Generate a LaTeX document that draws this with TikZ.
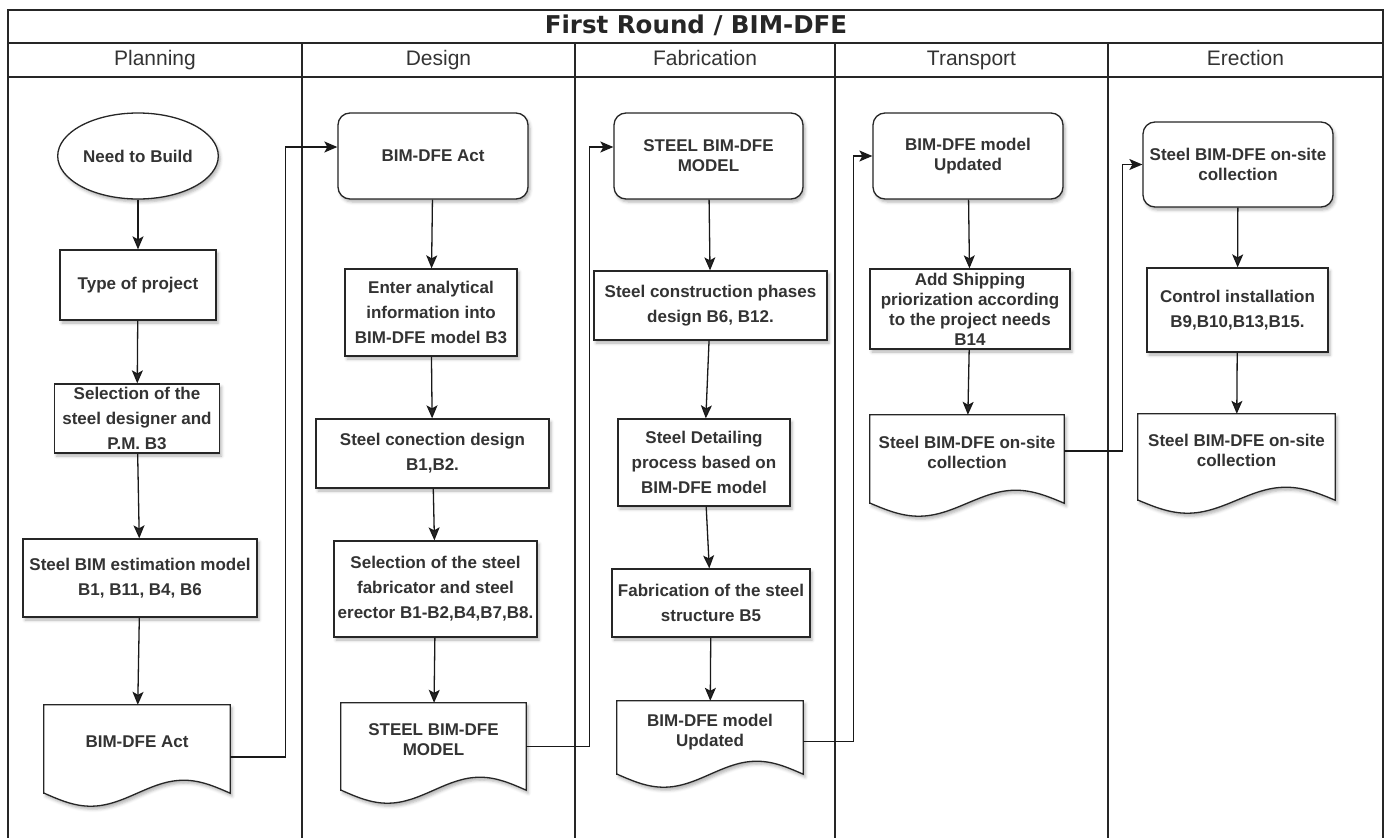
\documentclass[tikz,border=0pt]{standalone}
\usepackage{fontspec}
\setmainfont{Liberation Sans}
\newfontfamily\titlefont{DejaVu Sans}
\usetikzlibrary{shapes.geometric,arrows.meta,shadows.blur,backgrounds}

\newcommand{\docwave}[2]{%
  \draw[doc line] (#1.south west) |- (#1.north east) -- (#1.south east)
    sin ++(-#2/4,-13) cos ++(-#2/4,13) sin ++(-#2/4,13) cos ++(-#2/4,-13) -- cycle;}

\begin{document}
\begin{tikzpicture}[x=1pt,y=-1pt,
    lane line/.style={line width=1.3pt,draw=black!85},
    box shadow/.style={blur shadow={shadow xshift=2pt,shadow yshift=-3pt,shadow blur radius=3pt,shadow opacity=30}},
    base node/.style={draw=black!85,line width=1.3pt,fill=white,align=center,text=black!80,
                      font=\bfseries\fontsize{17}{25}\selectfont,inner sep=2pt,box shadow},
    proc node/.style={base node,rectangle},
    act node/.style={base node,rectangle,rounded corners=12pt,font=\bfseries\fontsize{17}{20}\selectfont},
    start node/.style={base node,ellipse},
    doc node/.style={rectangle,align=center,text=black!80,font=\bfseries\fontsize{17}{20}\selectfont,
                     inner sep=2pt,text depth=14pt},
    doc line/.style={draw=black!85,line width=1.3pt,fill=white,box shadow},
    flow/.style={-{Stealth[length=13pt,width=11pt,inset=3pt]},line width=1.3pt,draw=black!90},
    lane head/.style={font=\fontsize{21}{25}\selectfont,text=black!80,text height=15pt,text depth=5pt}]

  \useasboundingbox (0,0) rectangle (1385,838);

  % pool and lanes
  \draw[lane line] (8,838) -- (8,10) -- (1383,10) -- (1383,838);
  \draw[lane line] (8,43) -- (1383,43) (8,77) -- (1383,77);
  \foreach \x in {302,575,835,1108}
    \draw[lane line] (\x,43) -- (\x,838);

  \node[font=\titlefont\bfseries\fontsize{24.5}{28}\selectfont,text=black!85,text height=18pt,text depth=5pt] (title) at (696,26.5) {First Round / BIM-DFE};
  \node[lane head] (h1) at (155,60) {Planning};
  \node[lane head] (h2) at (438.5,60) {Design};
  \node[lane head] (h3) at (705,60) {Fabrication};
  \node[lane head] (h4) at (971.5,60) {Transport};
  \node[lane head] (h5) at (1245.5,60) {Erection};

  % planning
  \node[start node,minimum width=156pt,minimum height=86pt] (a1) at (138,156) {Need to Build};
  \node[proc node,minimum width=156pt,minimum height=70pt] (a2) at (138,285) {Type of project};
  \node[proc node,minimum width=165pt,minimum height=69pt] (a3) at (137,418.5) {Selection of the\\steel designer and\\P.M. B3};
  \node[proc node,minimum width=234pt,minimum height=78pt] (a4) at (140,578) {Steel BIM estimation model\\B1, B11, B4, B6};
  \node[doc node,minimum width=186pt,minimum height=88pt] (a5) at (137,749) {BIM-DFE Act};

  % design
  \node[act node,minimum width=190pt,minimum height=86pt] (b1) at (433,156) {BIM-DFE Act};
  \node[proc node,minimum width=172pt,minimum height=87pt] (b2) at (431,312.5) {Enter analytical\\information into\\BIM-DFE model B3};
  \node[proc node,minimum width=233pt,minimum height=69pt] (b3) at (432.5,453.5) {Steel conection design\\B1,B2.};
  \node[proc node,minimum width=203pt,minimum height=96pt] (b4) at (435.5,589) {Selection of the steel\\fabricator and steel\\erector B1-B2,B4,B7,B8.};
  \node[doc node,minimum width=185pt,minimum height=87pt] (b5) at (433.5,746.5) {STEEL BIM-DFE\\MODEL};

  % fabrication
  \node[act node,minimum width=189pt,minimum height=86pt] (c1) at (708.5,156) {STEEL BIM-DFE\\MODEL};
  \node[proc node,minimum width=233pt,minimum height=69pt] (c2) at (710.5,305.5) {Steel construction phases\\design B6, B12.};
  \node[proc node,minimum width=172pt,minimum height=87pt] (c3) at (704,462.5) {Steel Detailing\\process based on\\BIM-DFE model};
  \node[proc node,minimum width=198pt,minimum height=68pt] (c4) at (711,603) {Fabrication of the steel\\structure B5};
  \node[doc node,minimum width=186pt,minimum height=73pt] (c5) at (710,737.5) {BIM-DFE model\\Updated};

  % transport
  \node[act node,minimum width=190pt,minimum height=86pt] (d1) at (968,156) {BIM-DFE model\\Updated};
  \node[proc node,minimum width=200pt,minimum height=80pt,font=\bfseries\fontsize{17}{20}\selectfont] (d2) at (970,309) {Add Shipping\\priorization according\\to the project needs\\B14};
  \node[doc node,minimum width=194pt,minimum height=88pt] (d3) at (967,459) {Steel BIM-DFE on-site\\collection};

  % erection
  \node[act node,minimum width=190pt,minimum height=85pt] (e1) at (1238,164.5) {Steel BIM-DFE on-site\\collection};
  \node[proc node,minimum width=181pt,minimum height=84pt] (e2) at (1237.5,310) {Control installation\\B9,B10,B13,B15.};
  \node[doc node,minimum width=197pt,minimum height=86pt] (e3) at (1236.5,457) {Steel BIM-DFE on-site\\collection};

  \begin{pgfonlayer}{background}
    \docwave{a5}{186}
    \docwave{b5}{185}
    \docwave{c5}{186}
    \docwave{d3}{194}
    \docwave{e3}{197}
  \end{pgfonlayer}

  \path[flow]
    (a1) edge (a2)
    (a2) edge (a3)
    (a3) edge (a4)
    (a4) edge (a5)
    (b1) edge (b2)
    (b2) edge (b3)
    (b3) edge (b4)
    (b4) edge (b5)
    (c1) edge (c2)
    (c2) edge (c3)
    (c3) edge (c4)
    (c4) edge (c5)
    (d1) edge (d2)
    (d2) edge (d3)
    (e1) edge (e2)
    (e2) edge (e3);

  % hand-over between lanes
  \draw[flow] ([yshift=-8pt]a5.east) -- ++(55,0) |- ([yshift=9pt]b1.west);
  \draw[flow] (b5.east) -- ++(63,0) |- ([yshift=9pt]c1.west);
  \draw[flow] ([yshift=-4pt]c5.east) -- ++(50,0) |- (d1.west);
  \draw[flow] ([yshift=8pt]d3.east) -- ++(58,0) |- (e1.west);
\end{tikzpicture}
\end{document}
